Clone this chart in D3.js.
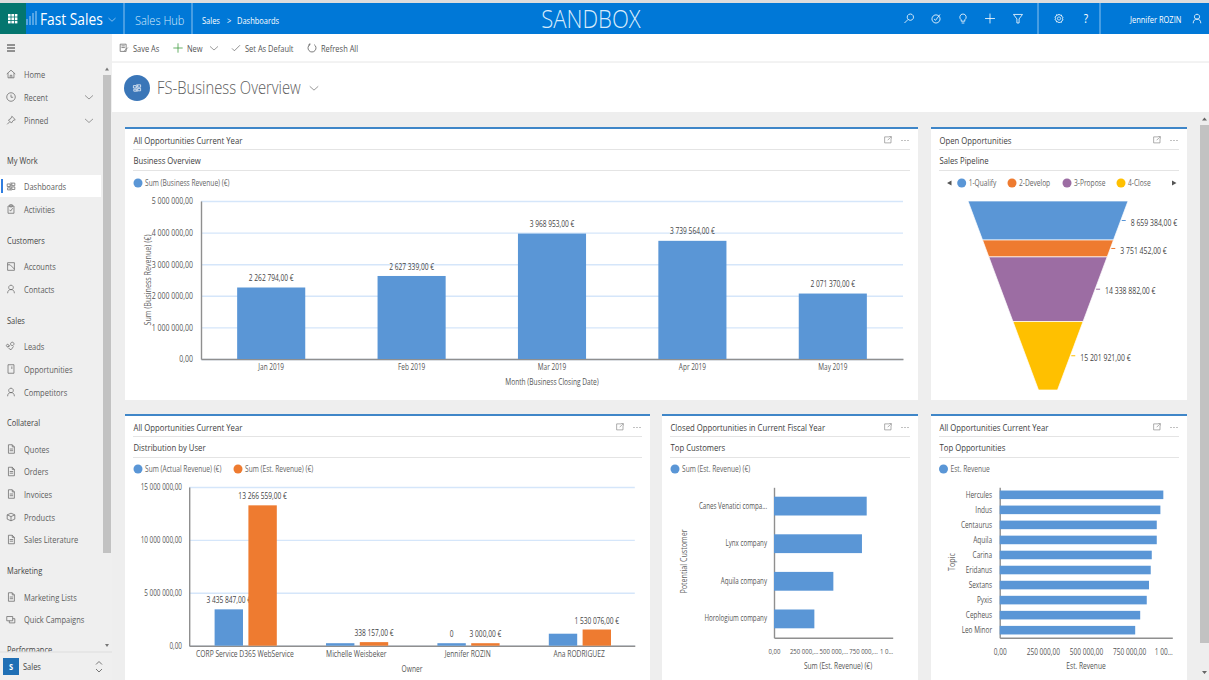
<!DOCTYPE html>
<meta charset="utf-8">
<style>
body{margin:0;background:#eee;overflow:hidden}
svg{display:block;font-family:"Open Sans",sans-serif}
.grid line{stroke:#d5e6fa;stroke-width:1.4}
.grid path{display:none}
.ax path{stroke:#8f8f8f;stroke-width:1.4}
.ax text{fill:#555;font-family:"Open Sans",sans-serif}
.ic{fill:none;stroke-width:.9}
</style>
<svg id="page" width="1209" height="680"></svg>
<script src="https://cdn.jsdelivr.net/npm/d3@7"></script>
<script>

// chart values
var months = ['Jan 2019','Feb 2019','Mar 2019','Apr 2019','May 2019']
var businessRevenue = [2262794,2627339,3968953,3739564,2071370]
var businessTicks = [0,1000000,2000000,3000000,4000000,5000000]

var stages = ['1-Qualify','2-Develop','3-Propose','4-Close']
var stageRevenue = [8659384,3751452,14338882,15201921]

var owners = ['CORP Service D365 WebService','Michelle Weisbeker','Jennifer ROZIN','Ana RODRIGUEZ']
var actualRevenue = [3435847,200000,0,1134000]
var actualLabels = ['3 435 847,00 €','','0','']
var estRevenue = [13266559,338157,3000,1530076]
var ownerTicks = [0,5000000,10000000,15000000]

var customers = ['Canes Venatici compa...','Lynx company','Aquila company','Horologium company']
var customerRevenue = [781000,741000,500000,340000]
var customerTicks = [0,250000,500000,750000,1000000]
var customerTickLabels = ['0,00','250 000,...','500 000,...','750 000,...','1 0...']

var topics = ['Hercules','Indus','Centaurus','Aquila','Carina','Eridanus','Sextans','Pyxis','Cepheus','Leo Minor']
var topicRevenue = [948000,931000,910000,910000,881000,875000,865000,852000,814000,785000]
var topicTickLabels = ['0,00','250 000,00','500 000,00','750 000,00','1 00...']

// sidebar content
var navLabels = ['Home','Recent','Pinned','Dashboards','Activities','Accounts','Contacts','Leads','Opportunities','Competitors','Quotes','Orders','Invoices','Products','Sales Literature','Marketing Lists','Quick Campaigns']
var navIcons = ['home','clock','pin','dash','clip','acct','user','lead','opp','user','doc','doc','doc','box','doc','doc','flag']
var navY = [74,97,120.5,186.5,209,266.5,289,346,369,392,449,471.5,494,517,539.5,597,619.5]
var navHeads = ['My Work','Customers','Sales','Collateral','Marketing','Performance']
var navHeadY = [161,241,321,423,571,650]

var blue = '#5a96d6', orange = '#ee7b30', purple = '#9c6da3', yellow = '#ffc000'
var stageColors = [blue,orange,purple,yellow]
var squeeze = .85 // the screenshot is narrower than it is tall
var chartSqueeze = .77, chartGrow = squeeze / chartSqueeze // chart labels are squeezed harder

var locale = d3.formatLocale({decimal:',',thousands:' ',grouping:[3],currency:['','']})
var num = locale.format(',.2f')
var euro = function(v){ return num(v) + ' €' }

var svg = d3.select('#page')

function txt(x, y, s, size, fill, anchor, opt){
  opt = opt || {}
  var small = size < 8.5
  var t = svg.append('text')
      .attr('transform', 'translate(' + x + ',' + y + ')' + (opt.rotate ? ' rotate(' + opt.rotate + ')' : '') + ' scale(' + (small ? chartSqueeze : squeeze) + ',1)')
      .attr('dy', '.35em')
      .attr('text-anchor', anchor || 'start')
      .style('font-size', (small ? size * chartGrow : size) + 'px')
      .style('fill', fill)
      .text(s)
  if (opt.weight) t.style('font-weight', opt.weight)
  return t
}

var iconPaths = {
  home: 'M1 6L6 1.5L11 6M2.5 5V10.5H9.5V5M5 10.5V7.5H7V10.5',
  clock: 'M6 1a5 5 0 1 0 .01 0M6 3.2V6.3H8.5',
  pin: 'M7 1L11 5L8.5 6L6.5 9L3 5.5L6 3.5ZM4.5 7.5L1.5 10.5',
  dash: 'M6 1V11M1.5 3H5V6H1.5ZM7 2H10.5V5H7ZM7 6.5H10.5V9.5H7ZM2 7.5H5V10H2Z',
  clip: 'M2.5 2.5H9.5V11H2.5ZM4.5 1H7.5V3.5H4.5ZM4.5 7L5.5 8.5L8 5',
  acct: 'M2 1.5H10V10.5H2ZM2 4H5L10 9',
  user: 'M6 1.5a2.7 2.7 0 1 0 .01 0M2 11c0-3 2-4.5 4-4.5s4 1.5 4 4.5',
  lead: 'M7.5 1.5a2 2 0 1 0 .01 0M2 4a1.5 1.5 0 1 0 .01 0M2 7L5 5.5M3 8.5L6 10.5L9 6.5',
  opp: 'M2.5 1H9.5V11H2.5ZM7 3V6',
  doc: 'M3 1H7.5L10 3.5V11H3ZM7.5 1V3.5H10M4.5 6H8.5M4.5 8H8.5',
  box: 'M6 1.5L10.5 3.5V8.5L6 10.5L1.5 8.5V3.5ZM1.5 3.5L6 5.5L10.5 3.5M6 5.5V10.5',
  flag: 'M1 2.5H8V7.5H1ZM4 7.5V10H10.5V5H8',
  search: 'M7.5 1a3.5 3.5 0 1 0 .01 0M5 7L1 11',
  target: 'M6 2a4.5 4.5 0 1 0 .01 0M3.8 6.5L5.5 8L10.5 1.5',
  bulb: 'M6 1a3.5 3.5 0 0 0 -2 6.4V9H8V7.4A3.5 3.5 0 0 0 6 1ZM4.5 11H7.5',
  plus: 'M6 .5V11.5M.5 6H11.5',
  filter: 'M1 1.5H11L7.2 6.5V11H4.8V6.5Z',
  gear: 'M6 1l1 1.4 1.7-.3.3 1.7 1.5.9-.7 1.5.7 1.5-1.5.9-.3 1.7-1.7-.3L6 11 5 9.6l-1.7.3-.3-1.7-1.5-.9.7-1.5-.7-1.5 1.5-.9.3-1.7L5 2.4ZM6 4.2a1.8 1.8 0 1 0 .01 0',
  save: 'M1.5 1.5H8.5V10H1.5ZM3 3.5H7M3 5.5H7M6 10L10.5 5.5',
  check: 'M1 6.5L4 9.5L11 2.5',
  refresh: 'M8.5 2A4.7 4.7 0 1 1 3.5 2M3.5 .5V2.5H1.5',
  expand: 'M1.5 2.5H7.5M1.5 2.5V10.5H10V5M5.5 7L10 2.5M7.5 2H10.5V5',
  chev: 'M1 4L6 8.5L11 4'
}
function icon(name, cx, cy, color, k){
  k = k || 1
  svg.append('path').attr('class', 'ic')
      .attr('transform', 'translate(' + (cx - 6 * k) + ',' + (cy - 6 * k) + ') scale(' + k + ')')
      .attr('d', iconPaths[name])
      .attr('stroke', color)
}

// ---- page frame

svg.append('rect').attr('width', 1209).attr('height', 680).attr('fill', '#eee')
svg.append('rect').attr('x', 112).attr('y', 34).attr('width', 1097).attr('height', 78).attr('fill', '#fff')
svg.append('line').attr('x1', 112).attr('x2', 1209).attr('y1', 62).attr('y2', 62).attr('stroke', '#e6e6e6')

// header
svg.append('rect').attr('width', 1209).attr('height', 3).attr('fill', '#ddd')
svg.append('rect').attr('y', 3).attr('width', 1209).attr('height', 31).attr('fill', '#0078d7')
svg.append('rect').attr('y', 3).attr('width', 26).attr('height', 31).attr('fill', '#04766f')
d3.range(9).forEach(function(i){
  svg.append('rect').attr('x', 8 + (i % 3) * 3.4).attr('y', 14 + Math.floor(i / 3) * 3.4)
      .attr('width', 2.6).attr('height', 2.6).attr('fill', '#fff')
})
;[124,192,1038,1100].forEach(function(x){
  svg.append('line').attr('x1', x).attr('x2', x).attr('y1', 3).attr('y2', 34).attr('stroke', '#8dc2ee')
})
svg.append('path').attr('d', 'M27 25V19M30 25V16M33 25V13M36 25V11').attr('stroke', '#a8d2f5').attr('fill', 'none')
txt(40, 19, 'Fast Sales', 16.2, '#fff')
icon('chev', 112, 19.5, '#cfe6fa', .7)
txt(135, 20, 'Sales Hub', 13, '#d8ebfb', 'start', {weight: 300})
txt(202, 20.5, 'Sales', 8.8, '#fff')
txt(227, 20.5, '>', 8.8, '#fff')
txt(237, 20.5, 'Dashboards', 8.8, '#fff')
txt(591, 19, 'SANDBOX', 26, '#d8ebfb', 'middle', {weight: 300})
icon('search', 909, 18.5, '#fff', .9)
icon('target', 936, 18.5, '#fff', .9)
icon('bulb', 963, 18.5, '#fff', .9)
icon('plus', 990, 18.5, '#fff', .9)
icon('filter', 1018, 18.5, '#fff', .9)
icon('gear', 1059, 18.5, '#fff', .9)
txt(1086, 18.5, '?', 12, '#fff', 'middle')
txt(1130, 20, 'Jennifer ROZIN', 8.8, '#fff')
icon('user', 1197, 18.5, '#fff', .95)

// command bar
icon('save', 124, 48, '#666', .85)
txt(133, 48.5, 'Save As', 8.8, '#555')
icon('plus', 178, 48, '#3a9a3a', .85)
txt(187, 48.5, 'New', 8.8, '#555')
icon('chev', 214, 48, '#777', .8)
icon('check', 236, 48, '#666', .8)
txt(245, 48.5, 'Set As Default', 8.8, '#555')
icon('refresh', 312, 48, '#555', .85)
txt(321, 48.5, 'Refresh All', 8.8, '#555')

// dashboard title
svg.append('circle').attr('cx', 137).attr('cy', 88).attr('r', 13).attr('fill', '#3a76b8')
icon('dash', 137, 88, '#fff', .8)
txt(157, 88, 'FS-Business Overview', 17.4, '#5d5d5d', 'start', {weight: 300})
icon('chev', 314, 88, '#777', .85)

// ---- sidebar

svg.append('rect').attr('y', 34).attr('width', 112).attr('height', 646).attr('fill', '#efefef')
svg.append('rect').attr('x', 103).attr('y', 75).attr('width', 8).attr('height', 478).attr('fill', '#c2c2c2')
svg.append('rect').attr('y', 175).attr('width', 101).attr('height', 22).attr('fill', '#fff')
svg.append('rect').attr('x', 1).attr('y', 179).attr('width', 2).attr('height', 14).attr('fill', '#2f7de0')
svg.append('path').attr('d', 'M7 45H15M7 48H15M7 51H15').attr('stroke', '#333').attr('stroke-width', 1)
svg.append('path').attr('d', 'M105 70.5L107 67.5L109 70.5Z M105 644L107 647L109 644Z').attr('fill', '#777')

navLabels.forEach(function(d, i){
  icon(navIcons[i], 11, navY[i], '#6b6b6b', .85)
  txt(24, navY[i] + .5, d, 8.8, '#5c5c5c')
})
navHeads.forEach(function(d, i){
  txt(7, navHeadY[i], d, 8.8, '#444')
})
icon('chev', 89, 97, '#777', .8)
icon('chev', 89, 120.5, '#777', .8)

svg.append('rect').attr('y', 652).attr('width', 112).attr('height', 28).attr('fill', '#efefef')
svg.append('line').attr('x1', 0).attr('x2', 112).attr('y1', 652).attr('y2', 652).attr('stroke', '#ddd')
svg.append('rect').attr('x', 3).attr('y', 658).attr('width', 16).attr('height', 17).attr('fill', '#1f6fb5')
txt(11, 666.5, 'S', 8.8, '#fff', 'middle', {weight: 700})
txt(23, 667, 'Sales', 8.8, '#444')
svg.append('path').attr('d', 'M96 664.5L99 661.5L102 664.5M96 669L99 672L102 669').attr('stroke', '#777').attr('fill', 'none')

// page scrollbar
svg.append('rect').attr('x', 1200).attr('y', 125).attr('width', 9).attr('height', 518).attr('fill', '#c2c2c2')
svg.append('path').attr('d', 'M1202 120.5L1204.5 117.5L1207 120.5Z M1202 671L1204.5 674L1207 671Z').attr('fill', '#666')

// ---- cards

function card(x, y, w, h, title, subtitle){
  svg.append('rect').attr('x', x).attr('y', y).attr('width', w).attr('height', h).attr('fill', '#fff')
  svg.append('rect').attr('x', x).attr('y', y).attr('width', w).attr('height', 2).attr('fill', '#3f86c8')
  svg.append('line').attr('x1', x + 8).attr('x2', x + w - 8).attr('y1', y + 22.5).attr('y2', y + 22.5).attr('stroke', '#e4e4e4')
  svg.append('line').attr('x1', x + 8).attr('x2', x + w - 8).attr('y1', y + 43.5).attr('y2', y + 43.5).attr('stroke', '#e4e4e4')
  txt(x + 8.5, y + 13.5, title, 9.1, '#3d3d3d')
  txt(x + 8.5, y + 34, subtitle, 9.1, '#3d3d3d')
  icon('expand', x + w - 30, y + 12.5, '#888', .75)
  ;[-3,0,3].forEach(function(dx){
    svg.append('circle').attr('cx', x + w - 13 + dx).attr('cy', y + 13.5).attr('r', .6).attr('fill', '#777')
  })
}

function legend(items, colors, cxs, y){
  items.forEach(function(d, i){
    svg.append('circle').attr('cx', cxs[i]).attr('cy', y).attr('r', 4.5).attr('fill', colors[i])
    txt(cxs[i] + 7, y, d, 7.8, '#666')
  })
}

function styleAxisText(sel, size){
  sel.selectAll('text').attr('transform', 'scale(' + chartSqueeze + ',1)').style('font-size', size * chartGrow + 'px')
}

function gridX(scale, ticks, y0, y1){
  svg.append('g').attr('class', 'grid').attr('transform', 'translate(0,' + y1 + ')')
      .call(d3.axisBottom(scale).tickValues(ticks).tickSize(y0 - y1).tickFormat(''))
}
function gridY(scale, ticks, x0, x1){
  svg.append('g').attr('class', 'grid').attr('transform', 'translate(' + x0 + ',0)')
      .call(d3.axisLeft(scale).tickValues(ticks).tickSize(x0 - x1).tickFormat(''))
}

function columnAxes(x, y, ticks, x0, y0, pad, valueSize, catSize){
  gridY(y, ticks, x0, x.range()[1])
  svg.append('g').attr('class', 'ax').attr('transform', 'translate(' + x0 + ',0)')
      .call(d3.axisLeft(y).tickValues(ticks).tickSize(0).tickPadding(pad * chartGrow).tickFormat(num))
      .call(styleAxisText, valueSize)
  svg.append('g').attr('class', 'ax').attr('transform', 'translate(0,' + y0 + ')')
      .call(d3.axisBottom(x).tickSize(0).tickPadding(5))
      .call(styleAxisText, catSize)
}

// Business Overview
card(125, 127, 793, 273, 'All Opportunities Current Year', 'Business Overview')
legend(['Sum (Business Revenue) (€)'], [blue], [138], 183)

var x1 = d3.scaleBand().domain(months).range([201, 903]).paddingInner(.515).paddingOuter(.2575)
var y1 = d3.scaleLinear().domain([0, 5000000]).range([359, 201])
columnAxes(x1, y1, businessTicks, 201, 359, 9.4, 8.2, 7.6)
svg.selectAll('.b1').data(businessRevenue).enter().append('rect').attr('class', 'b1')
    .attr('x', function(d, i){ return x1(months[i]) })
    .attr('y', function(d){ return y1(d) })
    .attr('width', x1.bandwidth())
    .attr('height', function(d){ return 359 - y1(d) })
    .attr('fill', blue)
businessRevenue.forEach(function(d, i){
  txt(x1(months[i]) + x1.bandwidth() / 2, y1(d) - 9.5, euro(d), 7.8, '#444', 'middle')
})
txt(552, 381.5, 'Month (Business Closing Date)', 7.8, '#555', 'middle')
txt(147.5, 280, 'Sum (Business Revenue) (€)', 8.4, '#666', 'middle', {rotate: -90})

// Sales Pipeline funnel
card(931, 127, 256, 273, 'Open Opportunities', 'Sales Pipeline')
legend(stages, stageColors, [961.7,1012,1067,1121], 183)
svg.append('path').attr('d', 'M951.5 180.5L947 183L951.5 185.5Z M1172 180.5L1176.5 183L1172 185.5Z').attr('fill', '#555')

var total = d3.sum(stageRevenue)
var fy = d3.scaleLinear().domain([0, total]).range([201, 390])
var fw = d3.scaleLinear().domain([0, total]).range([80, 9.5])
var fcx = 1048, cum = 0
var poly = d3.line()
stageRevenue.forEach(function(d, i){
  var a = cum, b = cum + d, m = a + d / 2
  svg.append('path')
      .attr('d', poly([[fcx - fw(a), fy(a)], [fcx + fw(a), fy(a)], [fcx + fw(b), fy(b)], [fcx - fw(b), fy(b)]]) + 'Z')
      .attr('fill', stageColors[i])
      .attr('stroke', '#fff').attr('stroke-width', .7)
  var ex = fcx + fw(m)
  svg.append('line').attr('x1', ex + 1).attr('x2', ex + 5).attr('y1', fy(m)).attr('y2', fy(m)).attr('stroke', stageColors[i])
  txt(ex + 10, fy(m) + 2, euro(d), 8.1, '#444')
  cum = b
})

// Distribution by User
card(125, 414, 525, 266, 'All Opportunities Current Year', 'Distribution by User')
legend(['Sum (Actual Revenue) (€)','Sum (Est. Revenue) (€)'], [blue,orange], [138,238], 469)

var x3 = d3.scaleBand().domain(owners).range([189.2, 634.8])
var x3s = d3.scaleBand().domain([0, 1]).range([25.4, 87.6]).paddingInner(.16)
var y3 = d3.scaleLinear().domain([0, 15000000]).range([645.7, 487])
columnAxes(x3, y3, ownerTicks, 189.2, 645.7, 8.5, 7.5, 7.9)
function minH(v){ return Math.max(2.5, 645.7 - y3(v)) }
owners.forEach(function(o, i){
  var bx = x3(o) + x3s(0), ox = x3(o) + x3s(1), w = x3s.bandwidth()
  if (actualLabels[i]) txt(bx + w / 2, 645.7 - minH(actualRevenue[i]) - 9, actualLabels[i], 7.8, '#444', 'middle')
  svg.append('rect').attr('x', bx).attr('y', 645.7 - minH(actualRevenue[i])).attr('width', w).attr('height', minH(actualRevenue[i])).attr('fill', blue)
  svg.append('rect').attr('x', ox).attr('y', 645.7 - minH(estRevenue[i])).attr('width', w).attr('height', minH(estRevenue[i])).attr('fill', orange)
  txt(ox + w / 2, 645.7 - minH(estRevenue[i]) - 9, euro(estRevenue[i]), 7.8, '#444', 'middle')
})
txt(412, 668.5, 'Owner', 7.8, '#555', 'middle')

function barAxes(x, y, ticks, labels, x0, y0, pad, valueSize, catSize){
  gridX(x, ticks, y.range()[1], y0)
  svg.append('g').attr('class', 'ax').attr('transform', 'translate(0,' + y0 + ')')
      .call(d3.axisBottom(x).tickValues(ticks).tickSize(0).tickPadding(11).tickFormat(function(d, i){ return labels[i] }))
      .call(styleAxisText, valueSize)
      .call(function(g){ g.selectAll('.tick:last-of-type text').attr('text-anchor', 'end') })
  svg.append('g').attr('class', 'ax').attr('transform', 'translate(' + x0 + ',0)')
      .call(d3.axisLeft(y).tickSize(0).tickPadding(pad * chartGrow))
      .call(styleAxisText, catSize)
}

// Top Customers
card(662, 414, 256, 266, 'Closed Opportunities in Current Fiscal Year', 'Top Customers')
legend(['Sum (Est. Revenue) (€)'], [blue], [675], 469)

var x4 = d3.scaleLinear().domain([0, 1000000]).range([774, 892.7])
var y4 = d3.scaleBand().domain(customers).range([487.3, 637.7]).paddingInner(.5).paddingOuter(.25)
barAxes(x4, y4, customerTicks, customerTickLabels, 774, 637.7, 8.2, 7.1, 7.3)
svg.selectAll('.b4').data(customerRevenue).enter().append('rect').attr('class', 'b4')
    .attr('x', 774)
    .attr('y', function(d, i){ return y4(customers[i]) })
    .attr('width', function(d){ return x4(d) - 774 })
    .attr('height', y4.bandwidth())
    .attr('fill', blue)
txt(838, 666, 'Sum (Est. Revenue) (€)', 7.8, '#555', 'middle')
txt(684, 561.5, 'Potential Customer', 8.4, '#666', 'middle', {rotate: -90})

// Top Opportunities
card(931, 414, 256, 266, 'All Opportunities Current Year', 'Top Opportunities')
legend(['Est. Revenue'], [blue], [943.5], 469)

var x5 = d3.scaleLinear().domain([0, 1000000]).range([999.7, 1172.3])
var y5 = d3.scaleBand().domain(topics).range([487.3, 637.7]).paddingInner(.43).paddingOuter(.215)
barAxes(x5, y5, customerTicks, topicTickLabels, 999.7, 637.7, 9, 7.7, 7.6)
svg.selectAll('.b5').data(topicRevenue).enter().append('rect').attr('class', 'b5')
    .attr('x', 999.7)
    .attr('y', function(d, i){ return y5(topics[i]) })
    .attr('width', function(d){ return x5(d) - 999.7 })
    .attr('height', y5.bandwidth())
    .attr('fill', blue)
txt(1086, 666, 'Est. Revenue', 7.8, '#555', 'middle')
txt(951.5, 562, 'Topic', 8.4, '#666', 'middle', {rotate: -90})

</script>
